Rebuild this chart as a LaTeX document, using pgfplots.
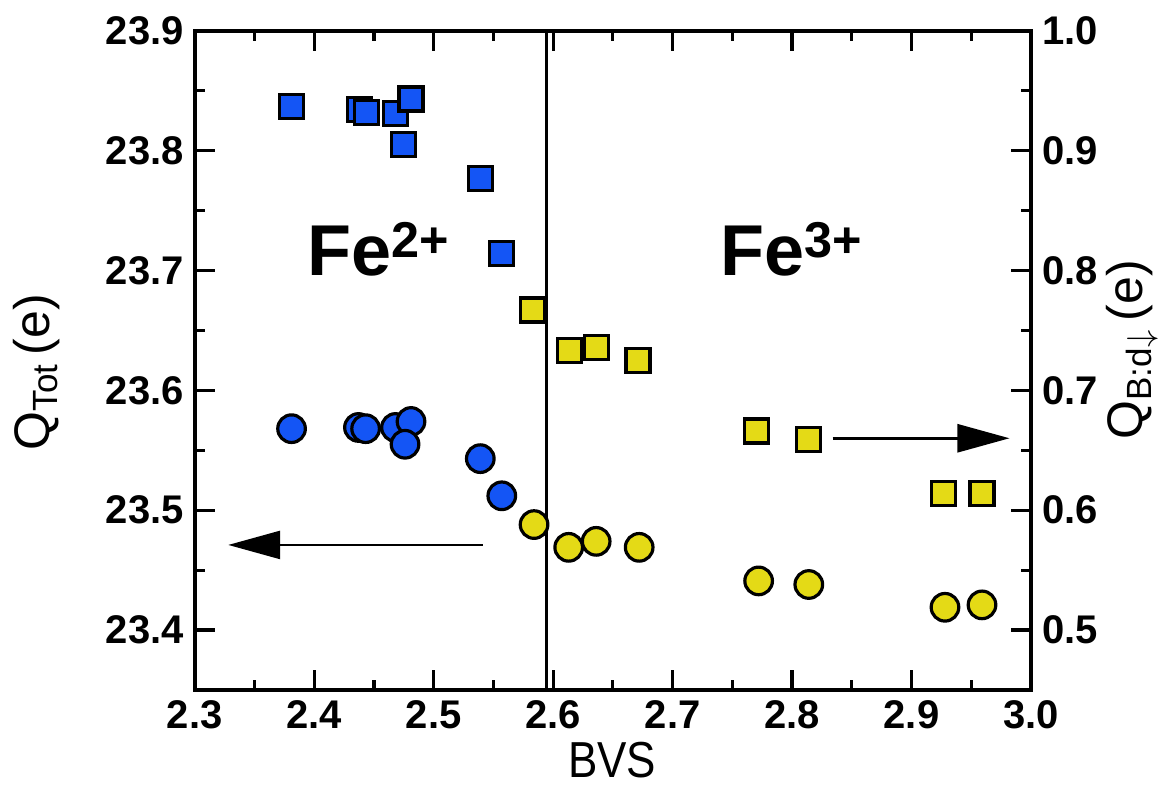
\documentclass[border=0pt]{standalone}
\usepackage{fontspec}
\setmainfont{Liberation Sans}
\usepackage{pgfplots}
\pgfplotsset{compat=1.18}
\usetikzlibrary{arrows.meta}
\definecolor{fblue}{RGB}{20,85,245}
\definecolor{fyellow}{RGB}{228,218,22}
\begin{document}
\begin{tikzpicture}
\pgfplotsset{
  common/.style={
    scale only axis, width=418.1pt, height=329.65pt,
    xmin=2.3, xmax=3.0,
    axis line style={line width=2pt},
    tick style={line width=1.6pt, black},
    major tick length=10pt, minor tick length=5pt,
    tick align=inside,
    minor x tick num=1, minor y tick num=1,
    ticklabel style={font=\bfseries\fontsize{20}{24}\selectfont},
    /pgf/number format/assume math mode=true,
    /pgf/number format/fixed, /pgf/number format/fixed zerofill,
    /pgf/number format/precision=1,
    clip=false,
  }
}
\begin{axis}[common,
  ymin=23.35, ymax=23.9,
  xtick={2.3,2.4,...,3.01},
  ytick={23.4,23.5,...,23.91},
  xtick pos=both, xticklabel pos=bottom,
  ytick pos=left,
  xticklabel style={yshift=-2pt},
  yticklabel style={xshift=-2pt},
  xlabel={\scalebox{1}[1.15]{BVS}},
  xlabel style={font=\fontsize{22}{26}\selectfont, at={(axis description cs:0.499,-0.106)}, anchor=center},
  ylabel={Q\textsubscript{Tot}\,(e)},
  ylabel style={font=\fontsize{25}{30}\selectfont, at={(axis description cs:-0.189,0.482)}, anchor=center, rotate=0},
]
\addplot[only marks, mark=*, mark size=6.9pt, mark options={fill=fblue, draw=black, line width=1.6pt}] coordinates {
(2.381,23.568) (2.437,23.569) (2.443,23.568) (2.468,23.569) (2.481,23.574) (2.476,23.555) (2.539,23.543) (2.557,23.512)
};
\addplot[only marks, mark=*, mark size=6.9pt, mark options={fill=fyellow, draw=black, line width=1.6pt}] coordinates {
(2.584,23.488) (2.613,23.469) (2.636,23.474) (2.672,23.469) (2.772,23.441) (2.814,23.438) (2.928,23.419) (2.959,23.421)
};
\draw[line width=1.5pt] (axis cs:2.594,23.35) -- (axis cs:2.594,23.9);
\draw[line width=1.3pt, -{Triangle[length=26pt,width=14pt]}] (axis cs:2.541,23.471) -- (axis cs:2.328,23.471);
\node[anchor=base west, font=\bfseries\fontsize{36}{40}\selectfont, inner sep=0pt] at (axis cs:2.394,23.696) {Fe\textsuperscript{2+}};
\node[anchor=base west, font=\bfseries\fontsize{36}{40}\selectfont, inner sep=0pt] at (axis cs:2.740,23.696) {Fe\textsuperscript{3+}};
\end{axis}
\begin{axis}[common,
  ymin=0.45, ymax=1.0,
  xtick=\empty,
  ytick={0.5,0.6,...,1.01},
  ytick pos=right, yticklabel pos=right,
  yticklabel style={xshift=2pt},
  ylabel={Q\textsubscript{B:d$\downarrow$}\,(e)},
  ylabel style={font=\fontsize{25}{30}\selectfont, at={(axis description cs:1.121,0.516)}, anchor=center, rotate=0},
]
\addplot[only marks, mark=square*, mark size=6pt, mark options={fill=fblue, draw=black, line width=1.6pt}] coordinates {
(2.381,0.937) (2.438,0.934) (2.444,0.932) (2.468,0.931) (2.481,0.943) (2.475,0.905) (2.539,0.877) (2.557,0.814)
};
\addplot[only marks, mark=square*, mark size=6pt, mark options={fill=fyellow, draw=black, line width=1.6pt}] coordinates {
(2.583,0.767) (2.614,0.733) (2.636,0.736) (2.671,0.725) (2.770,0.666) (2.814,0.659) (2.927,0.614) (2.959,0.614)
};
\draw[line width=1.3pt, -{Triangle[length=26pt,width=14pt]}] (axis cs:2.834,0.660) -- (axis cs:2.982,0.660);
\end{axis}
\pgfresetboundingbox
\path (-97.4pt,-50pt) rectangle (485.6pt,345pt);
\end{tikzpicture}
\end{document}
